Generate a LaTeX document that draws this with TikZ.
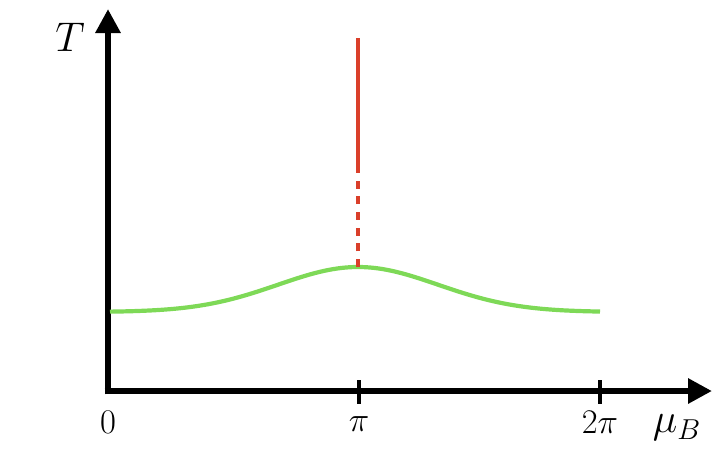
\documentclass[tikz,border=0pt]{standalone}
\usetikzlibrary{arrows.meta}
\definecolor{curvegreen}{HTML}{7ED957}
\definecolor{linered}{HTML}{DA3F2A}
\begin{document}
\begin{tikzpicture}[x=0.5pt,y=-0.5pt,
  axis/.style={line width=3.4pt,-{Triangle[length=12pt,width=12pt]}},
  tickmark/.style={line width=1.6pt},
  ticklabel/.style={font=\fontsize{16.5}{19}\selectfont,inner sep=0pt},
  axislabel/.style={font=\fontsize{22}{26}\selectfont,inner sep=0pt},
  greencurve/.style={curvegreen,line width=2.1pt},
  redline/.style={linered,line width=1.8pt}]
\useasboundingbox (0,0) rectangle (722,457);
\coordinate (O) at (108,391);
\coordinate (Ytop) at (108,9);
\coordinate (Xend) at (712,391);
\coordinate (Tpi) at (359,391);
\coordinate (T2pi) at (600,391);
\coordinate (peak) at (358,267);
\coordinate (redtop) at (358,38);
\coordinate (redmid) at (358,171);
% axes
\draw[axis] ([xshift=-1.7pt]O) -- (Xend);
\draw[axis] ([yshift=-1.7pt]O) -- (Ytop);
% ticks
\draw[tickmark] ([yshift=5.5pt]Tpi) -- ([yshift=-6.5pt]Tpi);
\draw[tickmark] ([yshift=5.5pt]T2pi) -- ([yshift=-6.5pt]T2pi);
% labels
\node[ticklabel] (l0) at (108,422) {$0$};
\node[ticklabel] (lpi) at (359,424) {$\pi$};
\node[ticklabel] (l2pi) at (600,422) {$2\pi$};
\node[axislabel] (lmu) at (677,428) {$\mu_B$};
\node[axislabel] (lT) at (70,37) {$T$};
% green curve
\draw[greencurve] plot[domain=110:600,samples=120,smooth] (\x,{312-45*exp(-((\x-358)/80)^2/2)});
% red line
\draw[redline] (redtop) -- (redmid);
\draw[redline,dash pattern=on 4pt off 3.85pt] (peak) -- (redmid);
\end{tikzpicture}
\end{document}
